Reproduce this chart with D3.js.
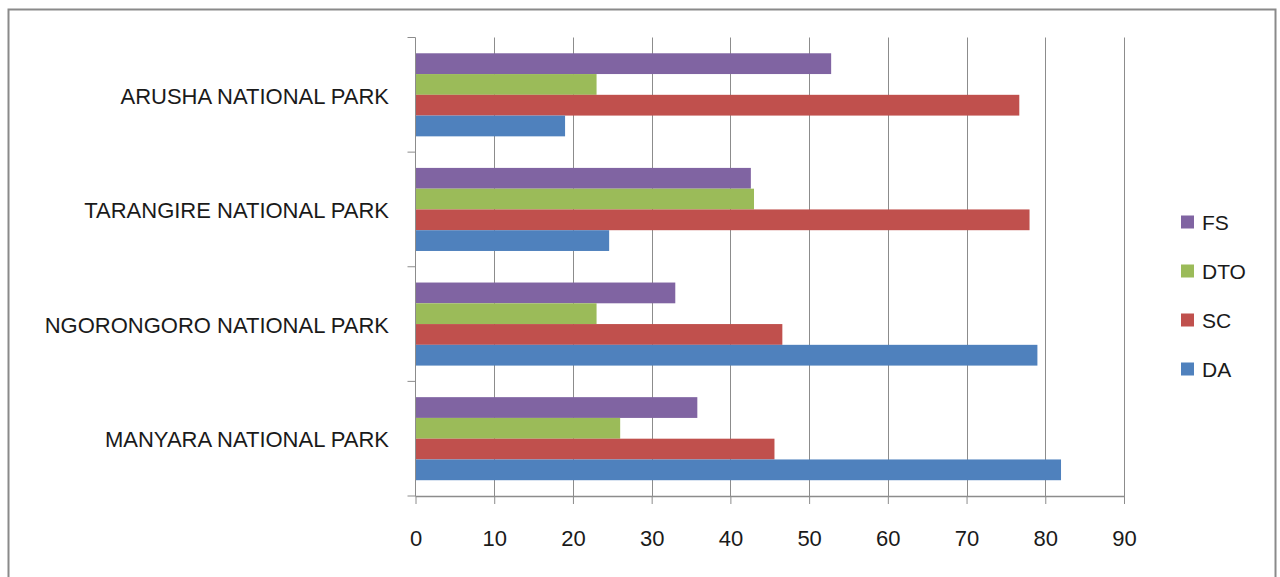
<!DOCTYPE html>
<html>
<head>
<meta charset="utf-8">
<script src="https://cdn.jsdelivr.net/npm/d3@7/dist/d3.min.js"></script>
<style>
  html, body { margin: 0; padding: 0; background: #fff; }
  svg { display: block; }
  text { font-family: "Liberation Sans", Arial, sans-serif; fill: #1a1a1a; }
</style>
</head>
<body>
<svg id="chart" width="1280" height="577"></svg>
<script>
// Parks, listed top to bottom
const parks = ["ARUSHA NATIONAL PARK", "TARANGIRE NATIONAL PARK", "NGORONGORO NATIONAL PARK", "MANYARA NATIONAL PARK"];
// Series drawn within each park, top to bottom (also legend order)
const seriesNames = ["FS", "DTO", "SC", "DA"];
const seriesColors = ["#8064A2", "#9BBB59", "#C0504D", "#4F81BD"];
// Values per series, one per park in the order above
const FS  = [52.8, 42.6, 33.0, 35.8];
const DTO = [23.0, 43.0, 23.0, 26.0];
const SC  = [76.7, 78.0, 46.6, 45.6];
const DA  = [19.0, 24.6, 79.0, 82.0];
const xTicks = [0, 10, 20, 30, 40, 50, 60, 70, 80, 90];

const seriesValues = { FS, DTO, SC, DA };

const svg = d3.select("#chart");

// Outer chart frame
svg.append("rect")
  .attr("x", 8.5).attr("y", 9.5)
  .attr("width", 1267).attr("height", 600)
  .attr("fill", "#fff")
  .attr("stroke", "#8a8a8a")
  .attr("stroke-width", 2);

const plot = { left: 415.5, right: 1124, top: 37.5, bottom: 496 };

const x = d3.scaleLinear().domain([0, 90]).range([plot.left, plot.right]);
const y0 = d3.scaleBand().domain(parks).range([plot.top, plot.bottom]).padding(0);
const y1 = d3.scaleBand().domain(seriesNames)
  .range([0, y0.bandwidth()])
  .paddingInner(0)
  .paddingOuter(0.76);

// Vertical gridlines
svg.append("g")
  .selectAll("line")
  .data(xTicks.slice(1))
  .join("line")
  .attr("x1", d => Math.round(x(d)) + 0.5)
  .attr("x2", d => Math.round(x(d)) + 0.5)
  .attr("y1", plot.top)
  .attr("y2", plot.bottom)
  .attr("stroke", "#8c8c8c")
  .attr("stroke-width", 1);

// Bars
const groups = svg.append("g")
  .selectAll("g")
  .data(parks)
  .join("g")
  .attr("transform", d => `translate(0,${y0(d)})`);

groups.selectAll("rect")
  .data((p, i) => seriesNames.map((s, k) => ({ s, k, v: seriesValues[s][i] })))
  .join("rect")
  .attr("x", x(0))
  .attr("y", d => y1(d.s))
  .attr("width", d => x(d.v) - x(0))
  .attr("height", y1.bandwidth())
  .attr("fill", d => seriesColors[d.k]);

// Bottom value axis
const xAxis = d3.axisBottom(x)
  .tickValues(xTicks)
  .tickSize(8)
  .tickPadding(26)
  .tickFormat(d3.format("d"));

const gx = svg.append("g")
  .attr("transform", `translate(0,${plot.bottom})`)
  .call(xAxis);
gx.select(".domain").attr("stroke", "#8c8c8c").attr("stroke-width", 1.5)
  .attr("d", `M${plot.left},0.5H${plot.right}`);
gx.selectAll(".tick line").attr("stroke", "#8c8c8c");
gx.selectAll(".tick text")
  .style("font-size", "22px")
  .style("font-family", "'Liberation Sans', Arial, sans-serif")
  .attr("fill", "#1a1a1a");

// Left category axis with tick marks on band boundaries
const gy = svg.append("g").attr("transform", `translate(${plot.left},0)`);
gy.append("line")
  .attr("x1", 0).attr("x2", 0)
  .attr("y1", plot.top).attr("y2", plot.bottom)
  .attr("stroke", "#8c8c8c");
const boundaries = parks.map(p => y0(p)).concat([plot.bottom]);
gy.selectAll("line.tk")
  .data(boundaries)
  .join("line")
  .attr("class", "tk")
  .attr("x1", -8).attr("x2", 0)
  .attr("y1", d => d).attr("y2", d => d)
  .attr("stroke", "#8c8c8c");

svg.append("g")
  .selectAll("text")
  .data(parks)
  .join("text")
  .attr("x", 389)
  .attr("y", d => y0(d) + y0.bandwidth() / 2 + 1)
  .attr("dy", "0.35em")
  .attr("text-anchor", "end")
  .style("font-size", "22px")
  .text(d => d);

// Legend
const legend = svg.append("g");
const legendY = d3.scalePoint().domain(seriesNames).range([222, 369]);
const items = legend.selectAll("g")
  .data(seriesNames)
  .join("g")
  .attr("transform", d => `translate(1181,${legendY(d)})`);
items.append("rect")
  .attr("x", 0).attr("y", -6.5)
  .attr("width", 13).attr("height", 13)
  .attr("fill", (d, i) => seriesColors[i]);
items.append("text")
  .attr("x", 21).attr("y", 0)
  .attr("dy", "0.36em")
  .style("font-size", "21px")
  .text(d => d);
</script>
</body>
</html>
